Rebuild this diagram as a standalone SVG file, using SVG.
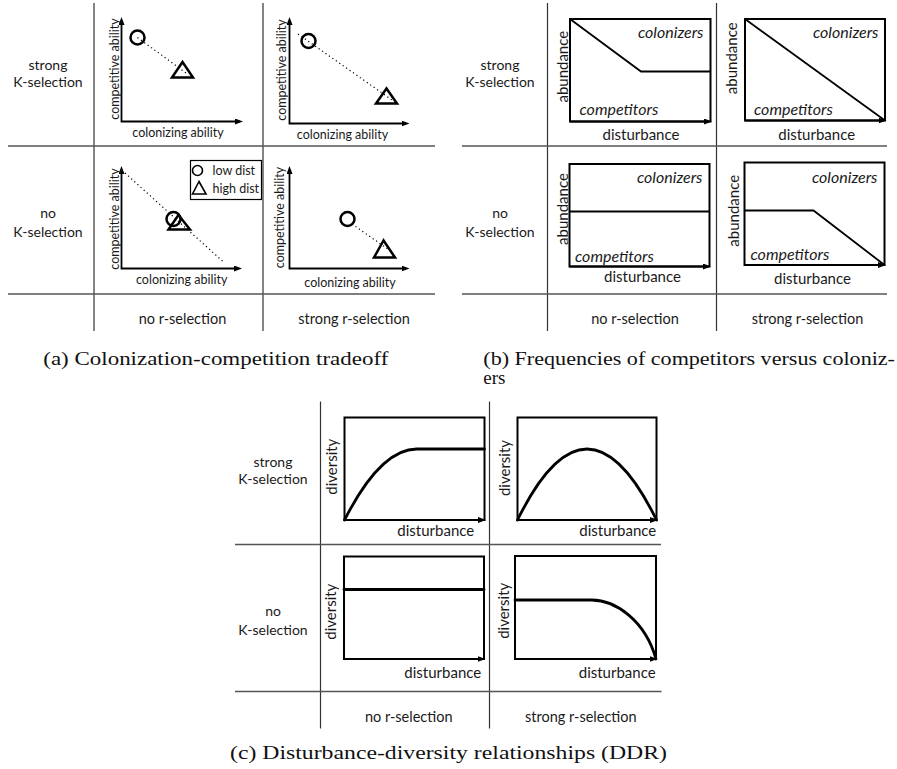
<svg xmlns="http://www.w3.org/2000/svg" width="897" height="769" viewBox="0 0 897 769">
<style>
.bg{fill:#fff}
.grid{stroke:#333;stroke-width:1.2;fill:none}
.hgrid{stroke:#555;stroke-width:1.5;fill:none}
.axis{stroke:#000;stroke-width:1.8;fill:none}
.box{stroke:#000;stroke-width:2;fill:none}
.ln{stroke:#000;stroke-width:1.8;fill:none}
.curve{stroke:#000;stroke-width:2.8;fill:none;stroke-linecap:round}
.dot{stroke:#000;stroke-width:1.2;stroke-dasharray:1.2 3;fill:none}
.sym{stroke:#000;stroke-width:2.5;fill:none}
.lsym{stroke:#000;stroke-width:1.6;fill:none}
.t{font-family:Lato,'Liberation Sans',sans-serif;fill:#1a1a1a}
.rl{font-size:14px;text-anchor:middle}
.cl{font-size:14.5px;text-anchor:middle}
.ax{font-size:12.5px;text-anchor:middle}
.lg{font-size:12.5px}
.bl{font-size:15px;text-anchor:middle}
.it{font-size:16px;font-style:italic}
.cap{font-family:'Liberation Serif',serif;font-size:19px;fill:#111}
</style>
<defs>
<marker id="ah" viewBox="0 0 8 6" refX="4.5" refY="3" markerWidth="8" markerHeight="6" markerUnits="userSpaceOnUse" orient="auto-start-reverse"><path d="M0,0 L8,3 L0,6 z" fill="#000"/></marker>
</defs>
<rect class="bg" x="0" y="0" width="897" height="769"/>

<!-- Panel (a) -->
<g id="panel-a">
<g id="a-grid">
<line class="grid" x1="94" y1="3" x2="94" y2="331"/>
<line class="grid" x1="263" y1="3" x2="263" y2="331"/>
<line class="hgrid" x1="8" y1="146" x2="435" y2="146"/>
<line class="hgrid" x1="8" y1="294" x2="435" y2="294"/>
</g>
<g id="a-labels" class="t">
<text class="rl" x="48" y="70">strong</text>
<text class="rl" x="48" y="87">K-selection</text>
<text class="rl" x="48" y="218">no</text>
<text class="rl" x="48" y="237">K-selection</text>
<text class="cl" x="182.5" y="323.5">no r-selection</text>
<text class="cl" x="354" y="323.5">strong r-selection</text>
</g>
<g id="a-plot1">
<path class="axis" d="M121.5,20.5 V121.5 H239.5" marker-start="url(#ah)" marker-end="url(#ah)"/>
<text class="t ax" transform="translate(118.5,69) rotate(-90)">competitive ability</text>
<text class="t ax" x="178" y="137">colonizing ability</text>
<line class="dot" x1="137.5" y1="37.5" x2="186" y2="73"/>
<circle class="sym" cx="137.5" cy="37.5" r="7"/>
<polygon class="sym" points="182.5,62 172,77.5 193,77.5"/>
</g>
<g id="a-plot2">
<path class="axis" d="M289.5,20.5 V123.5 H406" marker-start="url(#ah)" marker-end="url(#ah)"/>
<text class="t ax" transform="translate(285.7,70) rotate(-90)">competitive ability</text>
<text class="t ax" x="342.5" y="138.5">colonizing ability</text>
<line class="dot" x1="298" y1="34" x2="392" y2="100"/>
<circle class="sym" cx="308.5" cy="41" r="7"/>
<polygon class="sym" points="386.5,88.5 376,103.5 397,103.5"/>
</g>
<g id="a-plot3">
<path class="axis" d="M121.5,169.5 V268.5 H238.5" marker-start="url(#ah)" marker-end="url(#ah)"/>
<text class="t ax" transform="translate(118.5,219) rotate(-90)">competitive ability</text>
<text class="t ax" x="181.7" y="283.5">colonizing ability</text>
<line class="dot" x1="125" y1="173" x2="223.5" y2="262"/>
<circle class="sym" cx="173.5" cy="219" r="7"/>
<polygon class="sym" points="178.5,215 168.5,229.5 190,229.5"/>
</g>
<g id="a-legend">
<rect x="190.5" y="160.5" width="71" height="39" fill="#fff" stroke="#000" stroke-width="1.2"/>
<circle class="lsym" cx="197.5" cy="170.5" r="5"/>
<polygon class="lsym" points="199,181.5 192.5,194 206,194"/>
<text class="t lg" x="212.5" y="174.5">low dist</text>
<text class="t lg" x="212.5" y="192.5">high dist</text>
</g>
<g id="a-plot4">
<path class="axis" d="M289.5,169.5 V268.5 H406" marker-start="url(#ah)" marker-end="url(#ah)"/>
<text class="t ax" transform="translate(284,217.5) rotate(-90)">competitive ability</text>
<text class="t ax" x="350" y="286.5">colonizing ability</text>
<line class="dot" x1="352" y1="224" x2="392" y2="252"/>
<circle class="sym" cx="347.5" cy="219" r="7"/>
<polygon class="sym" points="383.5,240.5 374,257.5 395,257.5"/>
</g>
<text id="cap-a" class="cap" x="43.3" y="365" textLength="345" lengthAdjust="spacingAndGlyphs">(a) Colonization-competition tradeoff</text>
</g>

<!-- Panel (b) -->
<g id="panel-b">
<g id="b-grid">
<line class="grid" x1="547.5" y1="3" x2="547.5" y2="331"/>
<line class="grid" x1="716.5" y1="3" x2="716.5" y2="331"/>
<line class="hgrid" x1="462" y1="146" x2="887" y2="146"/>
<line class="hgrid" x1="462" y1="294" x2="887" y2="294"/>
</g>
<g id="b-labels" class="t">
<text class="rl" x="500" y="70">strong</text>
<text class="rl" x="500" y="87">K-selection</text>
<text class="rl" x="500" y="218">no</text>
<text class="rl" x="500" y="237">K-selection</text>
<text class="cl" x="635" y="323.5">no r-selection</text>
<text class="cl" x="807.5" y="323.5">strong r-selection</text>
</g>
<g id="b-plot1">
<rect class="box" x="570" y="19" width="140.5" height="102.5"/>
<path class="axis" d="M570,121.5 H708.5" marker-end="url(#ah)"/>
<polyline class="ln" points="570,19 641,71.5 710.5,71.5"/>
<text class="t bl" transform="translate(568,66.7) rotate(-90)">abundance</text>
<text class="t it" x="703.5" y="38" text-anchor="end">colonizers</text>
<text class="t it" x="579.5" y="115">competitors</text>
<text class="t bl" x="641" y="140">disturbance</text>
</g>
<g id="b-plot2">
<rect class="box" x="745" y="19" width="140" height="101.5"/>
<path class="axis" d="M745,120.5 H883" marker-end="url(#ah)"/>
<line class="ln" x1="745" y1="19" x2="885" y2="120.5"/>
<text class="t bl" transform="translate(736.5,58.3) rotate(-90)">abundance</text>
<text class="t it" x="878.5" y="38" text-anchor="end">colonizers</text>
<text class="t it" x="754" y="115">competitors</text>
<text class="t bl" x="816.7" y="140">disturbance</text>
</g>
<g id="b-plot3">
<rect class="box" x="569.5" y="164" width="140" height="102.5"/>
<path class="axis" d="M569.5,266.5 H707.5" marker-end="url(#ah)"/>
<line class="ln" x1="569.5" y1="211.5" x2="709.5" y2="211.5"/>
<text class="t bl" transform="translate(568,209) rotate(-90)">abundance</text>
<text class="t it" x="702.5" y="183" text-anchor="end">colonizers</text>
<text class="t it" x="575" y="261.5">competitors</text>
<text class="t bl" x="642.5" y="281.5">disturbance</text>
</g>
<g id="b-plot4">
<rect class="box" x="744.5" y="162.5" width="140" height="102.5"/>
<path class="axis" d="M744.5,265 H882.5" marker-end="url(#ah)"/>
<polyline class="ln" points="744.5,210.5 813.5,210.5 884.5,265"/>
<text class="t bl" transform="translate(739,210.8) rotate(-90)">abundance</text>
<text class="t it" x="877.5" y="182.5" text-anchor="end">colonizers</text>
<text class="t it" x="750.5" y="260">competitors</text>
<text class="t bl" x="812.5" y="284">disturbance</text>
</g>
<text id="cap-b" class="cap" x="483.3" y="365" textLength="411.7" lengthAdjust="spacingAndGlyphs">(b) Frequencies of competitors versus coloniz-</text>
<text class="cap" x="483.3" y="384">ers</text>
</g>

<!-- Panel (c) -->
<g id="panel-c">
<g id="c-grid">
<line class="grid" x1="320.5" y1="401.5" x2="320.5" y2="728.5"/>
<line class="grid" x1="489.5" y1="401.5" x2="489.5" y2="728.5"/>
<line class="hgrid" x1="235" y1="544.5" x2="661" y2="544.5"/>
<line class="hgrid" x1="235" y1="691.5" x2="661.5" y2="691.5"/>
</g>
<g id="c-labels" class="t">
<text class="rl" x="273" y="467">strong</text>
<text class="rl" x="273" y="484">K-selection</text>
<text class="rl" x="273" y="616">no</text>
<text class="rl" x="273" y="635">K-selection</text>
<text class="cl" x="408.7" y="721.5">no r-selection</text>
<text class="cl" x="580.8" y="721.5">strong r-selection</text>
</g>
<g id="c-plot1">
<rect class="box" x="344.5" y="417.5" width="140" height="102.5"/>
<path class="axis" d="M344.5,520 H482.5" marker-end="url(#ah)"/>
<path class="curve" d="M344.5,520 Q380.6,449 416.7,449 H484.5"/>
<text class="t bl" transform="translate(337,466.7) rotate(-90)">diversity</text>
<text class="t bl" x="435.8" y="536">disturbance</text>
</g>
<g id="c-plot2">
<rect class="box" x="517.5" y="417.5" width="139" height="102.5"/>
<path class="axis" d="M517.5,520 H654.5" marker-end="url(#ah)"/>
<path class="curve" d="M517.5,520 Q587,378 656.5,520"/>
<text class="t bl" transform="translate(510,468) rotate(-90)">diversity</text>
<text class="t bl" x="617.8" y="536">disturbance</text>
</g>
<g id="c-plot3">
<rect class="box" x="344" y="556.5" width="140" height="102.5"/>
<path class="axis" d="M344,659 H482" marker-end="url(#ah)"/>
<line class="curve" x1="344" y1="589.5" x2="484" y2="589.5" stroke-linecap="butt"/>
<text class="t bl" transform="translate(335.5,611.7) rotate(-90)">diversity</text>
<text class="t bl" x="442.8" y="678">disturbance</text>
</g>
<g id="c-plot4">
<rect class="box" x="515" y="556" width="141" height="103"/>
<path class="axis" d="M515,659 H654" marker-end="url(#ah)"/>
<path class="curve" d="M515,600 H591.7 C615,600 645,620 656,659"/>
<text class="t bl" transform="translate(509,610.8) rotate(-90)">diversity</text>
<text class="t bl" x="617.2" y="678">disturbance</text>
</g>
<text id="cap-c" class="cap" x="230" y="759" textLength="437" lengthAdjust="spacingAndGlyphs">(c) Disturbance-diversity relationships (DDR)</text>
</g>
</svg>
